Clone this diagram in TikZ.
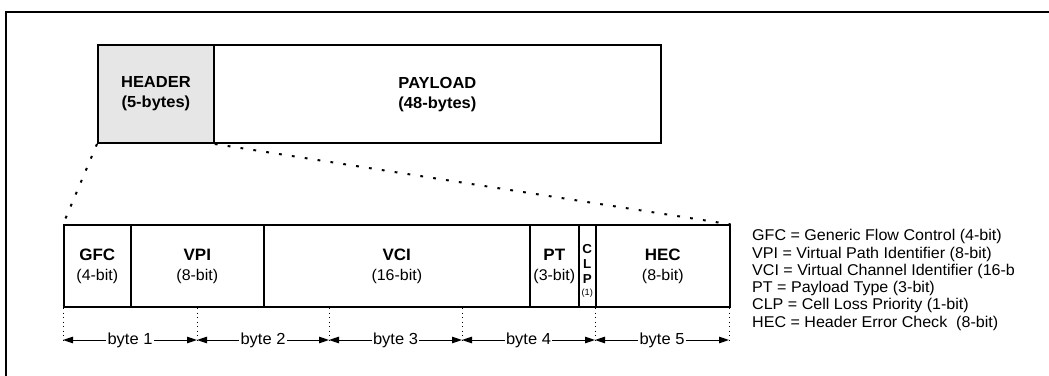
\documentclass[tikz,border=0pt]{standalone}
\usepackage{fontspec}
\setmainfont{Liberation Sans}[FakeStretch=1.03]
\usetikzlibrary{arrows.meta}
\definecolor{hdrgray}{HTML}{E6E6E6}
\begin{document}
\begin{tikzpicture}[x=1pt,y=1pt,
  box/.style={draw, line width=1.8pt, inner sep=0pt, anchor=south west, minimum height=98pt, align=center, font=\fontsize{16}{20}\selectfont\bfseries},
  cell/.style={draw, line width=1.6pt, inner sep=0pt, anchor=south west, minimum height=82pt, align=center, font=\fontsize{15.5}{20}\selectfont},
  zoomline/.style={line width=2pt, dash pattern=on 2.8pt off 10.2pt},
  tickline/.style={line width=1pt, dash pattern=on 1.3pt off 3.2pt},
  span/.style={line width=1pt, {Triangle[length=10pt,width=6.5pt]}-{Triangle[length=10pt,width=6.5pt]}},
  lbl/.style={fill=white, inner sep=1.2pt, font=\fontsize{16}{16}\selectfont},
  leg/.style={anchor=base west, inner sep=0pt, font=\fontsize{15.6}{17}\selectfont},
  bt/.style={font=\fontsize{16.5}{20}\selectfont\bfseries}
]
\useasboundingbox (0,0) rectangle (1049,375);
% frame
\draw[line width=1.8pt] (6,-20) -- (6,363) -- (1070,363);
% top cell
\node[box, fill=hdrgray, minimum width=116pt] (hdr) at (97,231) {HEADER\\(5-bytes)};
\node[box, minimum width=447pt] (pay) at (213,231) {PAYLOAD\\(48-bytes)};
% header fields
\node[cell, minimum width=67pt]  (gfc) at (63,67)  {{\bfseries\fontsize{16.5}{20}\selectfont GFC}\\(4-bit)};
\node[cell, minimum width=133pt] (vpi) at (130,67) {{\bfseries\fontsize{16.5}{20}\selectfont VPI}\\(8-bit)};
\node[cell, minimum width=266pt] (vci) at (263,67) {{\bfseries\fontsize{16.5}{20}\selectfont VCI}\\(16-bit)};
\node[cell, minimum width=49pt]  (pt)  at (529,67) {{\bfseries\fontsize{16.5}{20}\selectfont PT}\\(3-bit)};
\node[cell, minimum width=17pt]  (clp) at (578,67) {};
\node[cell, minimum width=134pt] (hec) at (595,67) {{\bfseries\fontsize{16.5}{20}\selectfont HEC}\\(8-bit)};
\node[align=center, inner sep=0pt, font=\fontsize{13}{15}\selectfont\bfseries] (clptext) at ([yshift=-5pt]clp.center) {C\\L\\P\\[-3pt]{\mdseries\fontsize{9}{9}\selectfont(1)}};
% zoom lines
\draw[zoomline] (hdr.south west) -- (gfc.north west);
\draw[zoomline] (hdr.south east) -- (hec.north east);
% byte ticks
\foreach \i/\x in {0/63,1/197,2/329,3/462,4/595,5/729}{
  \coordinate (t\i) at (\x,67);
  \coordinate (b\i) at (\x,32);
  \coordinate (a\i) at (\x,35);
  \draw[tickline] (t\i) -- (b\i);
}
\draw[span] (a0) -- node[lbl] (by1) {byte 1} (a1);
\draw[span] (a1) -- node[lbl] (by2) {byte 2} (a2);
\draw[span] (a2) -- node[lbl] (by3) {byte 3} (a3);
\draw[span] (a3) -- node[lbl] (by4) {byte 4} (a4);
\draw[span] (a4) -- node[lbl] (by5) {byte 5} (a5);
% legend
\node[leg] (l1) at (752,134)   {GFC = Generic Flow Control (4-bit)};
\node[leg] (l2) at (752,116.8) {VPI = Virtual Path Identifier (8-bit)};
\node[leg] (l3) at (752,99.6)  {VCI = Virtual Channel Identifier (16-b};
\node[leg] (l4) at (752,82.4)  {PT = Payload Type (3-bit)};
\node[leg] (l5) at (752,65.2)  {CLP = Cell Loss Priority (1-bit)};
\node[leg] (l6) at (752,48)    {HEC = Header Error Check\ \ (8-bit)};
\end{tikzpicture}
\end{document}
